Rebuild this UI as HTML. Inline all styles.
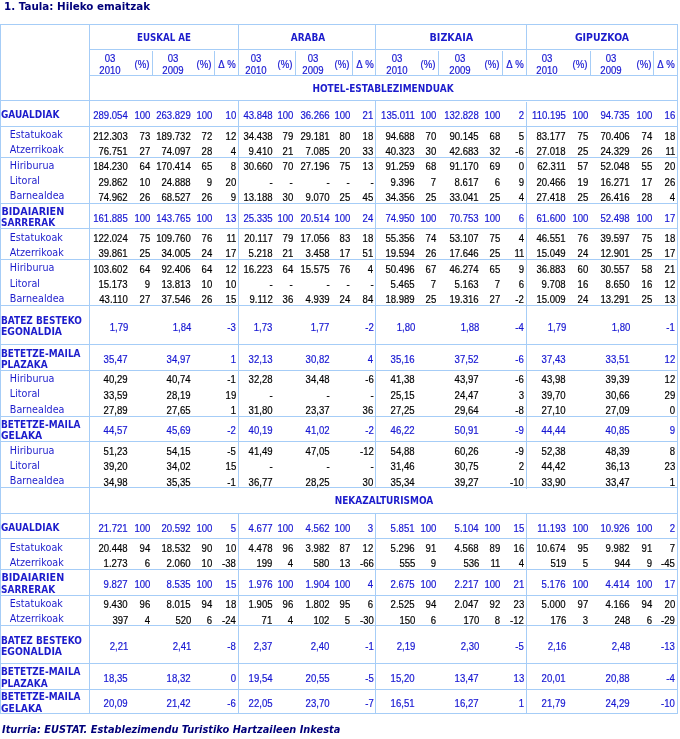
<!DOCTYPE html>
<html lang="eu"><head><meta charset="utf-8"><title>1. Taula: Hileko emaitzak</title>
<style>
html,body{margin:0;padding:0;background:#fff}
body{width:680px;height:739px;position:relative;overflow:hidden;will-change:transform}
i.l{position:absolute;background:#a6cdf7;display:block}
b{position:absolute;white-space:nowrap;font-weight:normal}
.n,.nc{font:11px/12px "Liberation Sans",sans-serif;-webkit-text-stroke:.2px}
.n{transform:scaleX(0.87);transform-origin:100% 50%}
.nc{width:60px;text-align:center;transform:scaleX(0.87);transform-origin:50% 50%}
.lb,.lbc{font:bold 9.6px/11px "DejaVu Sans","Liberation Sans",sans-serif;color:#1c1ccc;transform:scaleX(0.935);transform-origin:0 50%}
.lbc{width:200px;text-align:center;transform-origin:50% 50%}
.sb{font:9.6px/11px "DejaVu Sans","Liberation Sans",sans-serif;color:#1c1ccc;transform:scaleX(1.0);transform-origin:0 50%}
.ti{font:bold 10px/11px "DejaVu Sans","Liberation Sans",sans-serif;color:#00007a;transform:scaleX(1.033);transform-origin:0 50%}
.ft{font:italic bold 10px/11px "DejaVu Sans","Liberation Sans",sans-serif;color:#00007a;transform:scaleX(0.98);transform-origin:0 50%}
</style></head>
<body>
<i class="l" style="left:0px;top:24px;width:678px;height:1px"></i>
<i class="l" style="left:0px;top:100px;width:678px;height:1px"></i>
<i class="l" style="left:0px;top:126px;width:678px;height:1px"></i>
<i class="l" style="left:0px;top:157px;width:678px;height:1px"></i>
<i class="l" style="left:0px;top:203px;width:678px;height:1px"></i>
<i class="l" style="left:0px;top:228px;width:678px;height:1px"></i>
<i class="l" style="left:0px;top:259px;width:678px;height:1px"></i>
<i class="l" style="left:0px;top:305px;width:678px;height:1px"></i>
<i class="l" style="left:0px;top:344px;width:678px;height:1px"></i>
<i class="l" style="left:0px;top:370px;width:678px;height:1px"></i>
<i class="l" style="left:0px;top:416px;width:678px;height:1px"></i>
<i class="l" style="left:0px;top:441px;width:678px;height:1px"></i>
<i class="l" style="left:0px;top:487px;width:678px;height:1px"></i>
<i class="l" style="left:0px;top:513px;width:678px;height:1px"></i>
<i class="l" style="left:0px;top:538px;width:678px;height:1px"></i>
<i class="l" style="left:0px;top:569px;width:678px;height:1px"></i>
<i class="l" style="left:0px;top:595px;width:678px;height:1px"></i>
<i class="l" style="left:0px;top:625px;width:678px;height:1px"></i>
<i class="l" style="left:0px;top:663px;width:678px;height:1px"></i>
<i class="l" style="left:0px;top:689px;width:678px;height:1px"></i>
<i class="l" style="left:0px;top:713px;width:678px;height:1px"></i>
<i class="l" style="left:89px;top:49px;width:589px;height:1px"></i>
<i class="l" style="left:89px;top:75px;width:589px;height:1px"></i>
<i class="l" style="left:0px;top:24px;width:1px;height:690px"></i>
<i class="l" style="left:89px;top:24px;width:1px;height:690px"></i>
<i class="l" style="left:677px;top:24px;width:1px;height:690px"></i>
<i class="l" style="left:238px;top:24px;width:1px;height:52px"></i>
<i class="l" style="left:238px;top:100px;width:1px;height:388px"></i>
<i class="l" style="left:238px;top:513px;width:1px;height:201px"></i>
<i class="l" style="left:375px;top:24px;width:1px;height:52px"></i>
<i class="l" style="left:375px;top:100px;width:1px;height:388px"></i>
<i class="l" style="left:375px;top:513px;width:1px;height:201px"></i>
<i class="l" style="left:526px;top:24px;width:1px;height:52px"></i>
<i class="l" style="left:526px;top:102px;width:1px;height:387px"></i>
<i class="l" style="left:526px;top:513px;width:1px;height:201px"></i>
<i class="l" style="left:152px;top:51px;width:1px;height:24px"></i>
<i class="l" style="left:214px;top:51px;width:1px;height:24px"></i>
<i class="l" style="left:295px;top:51px;width:1px;height:24px"></i>
<i class="l" style="left:352px;top:51px;width:1px;height:24px"></i>
<i class="l" style="left:438px;top:51px;width:1px;height:24px"></i>
<i class="l" style="left:502px;top:51px;width:1px;height:24px"></i>
<i class="l" style="left:590px;top:51px;width:1px;height:24px"></i>
<i class="l" style="left:653px;top:51px;width:1px;height:24px"></i>
<b class="ti" style="left:4px;top:1px">1. Taula: Hileko emaitzak</b>
<b class="ft" style="left:1.6px;top:724px">Iturria: EUSTAT. Establezimendu Turistiko Hartzaileen Inkesta</b>
<b class="lbc" style="left:63.5px;top:32px;transform:scaleX(0.908)">EUSKAL AE</b>
<b class="lbc" style="left:208px;top:32px">ARABA</b>
<b class="lbc" style="left:351.4px;top:32px;transform:scaleX(1.0)">BIZKAIA</b>
<b class="lbc" style="left:502.4px;top:32px;transform:scaleX(0.975)">GIPUZKOA</b>
<b class="nc" style="left:80.3px;top:52px;color:#1616d2">03</b>
<b class="nc" style="left:80.3px;top:64px;color:#1616d2">2010</b>
<b class="nc" style="left:111.6px;top:58px;color:#1616d2">(%)</b>
<b class="nc" style="left:143px;top:52px;color:#1616d2">03</b>
<b class="nc" style="left:143px;top:64px;color:#1616d2">2009</b>
<b class="nc" style="left:174px;top:58px;color:#1616d2">(%)</b>
<b class="nc" style="left:196.6px;top:58px;color:#1616d2">&Delta;&nbsp;%</b>
<b class="nc" style="left:226px;top:52px;color:#1616d2">03</b>
<b class="nc" style="left:226px;top:64px;color:#1616d2">2010</b>
<b class="nc" style="left:254.7px;top:58px;color:#1616d2">(%)</b>
<b class="nc" style="left:283px;top:52px;color:#1616d2">03</b>
<b class="nc" style="left:283px;top:64px;color:#1616d2">2009</b>
<b class="nc" style="left:311.5px;top:58px;color:#1616d2">(%)</b>
<b class="nc" style="left:334.6px;top:58px;color:#1616d2">&Delta;&nbsp;%</b>
<b class="nc" style="left:366.6px;top:52px;color:#1616d2">03</b>
<b class="nc" style="left:366.6px;top:64px;color:#1616d2">2010</b>
<b class="nc" style="left:398px;top:58px;color:#1616d2">(%)</b>
<b class="nc" style="left:430px;top:52px;color:#1616d2">03</b>
<b class="nc" style="left:430px;top:64px;color:#1616d2">2009</b>
<b class="nc" style="left:462px;top:58px;color:#1616d2">(%)</b>
<b class="nc" style="left:485px;top:58px;color:#1616d2">&Delta;&nbsp;%</b>
<b class="nc" style="left:517px;top:52px;color:#1616d2">03</b>
<b class="nc" style="left:517px;top:64px;color:#1616d2">2010</b>
<b class="nc" style="left:549.7px;top:58px;color:#1616d2">(%)</b>
<b class="nc" style="left:581.3px;top:52px;color:#1616d2">03</b>
<b class="nc" style="left:581.3px;top:64px;color:#1616d2">2009</b>
<b class="nc" style="left:613.5px;top:58px;color:#1616d2">(%)</b>
<b class="nc" style="left:635.5px;top:58px;color:#1616d2">&Delta;&nbsp;%</b>
<b class="lbc" style="left:282.5px;top:83px">HOTEL-ESTABLEZIMENDUAK</b>
<b class="lbc" style="left:284px;top:495px">NEKAZALTURISMOA</b>
<b class="lb" style="left:1.4px;top:109px">GAUALDIAK</b>
<b class="n" style="right:552px;top:109px;color:#1616d2">289.054</b>
<b class="n" style="right:530px;top:109px;color:#1616d2">100</b>
<b class="n" style="right:489px;top:109px;color:#1616d2">263.829</b>
<b class="n" style="right:467.5px;top:109px;color:#1616d2">100</b>
<b class="n" style="right:444px;top:109px;color:#1616d2">10</b>
<b class="n" style="right:407.5px;top:109px;color:#1616d2">43.848</b>
<b class="n" style="right:387px;top:109px;color:#1616d2">100</b>
<b class="n" style="right:350.5px;top:109px;color:#1616d2">36.266</b>
<b class="n" style="right:330px;top:109px;color:#1616d2">100</b>
<b class="n" style="right:306.5px;top:109px;color:#1616d2">21</b>
<b class="n" style="right:265px;top:109px;color:#1616d2">135.011</b>
<b class="n" style="right:244px;top:109px;color:#1616d2">100</b>
<b class="n" style="right:201px;top:109px;color:#1616d2">132.828</b>
<b class="n" style="right:180px;top:109px;color:#1616d2">100</b>
<b class="n" style="right:156px;top:109px;color:#1616d2">2</b>
<b class="n" style="right:114px;top:109px;color:#1616d2">110.195</b>
<b class="n" style="right:92px;top:109px;color:#1616d2">100</b>
<b class="n" style="right:50px;top:109px;color:#1616d2">94.735</b>
<b class="n" style="right:28px;top:109px;color:#1616d2">100</b>
<b class="n" style="right:5px;top:109px;color:#1616d2">16</b>
<b class="sb" style="left:9.8px;top:129px">Estatukoak</b>
<b class="n" style="right:552px;top:130px;color:#000">212.303</b>
<b class="n" style="right:530px;top:130px;color:#000">73</b>
<b class="n" style="right:489px;top:130px;color:#000">189.732</b>
<b class="n" style="right:467.5px;top:130px;color:#000">72</b>
<b class="n" style="right:444px;top:130px;color:#000">12</b>
<b class="n" style="right:407.5px;top:130px;color:#000">34.438</b>
<b class="n" style="right:387px;top:130px;color:#000">79</b>
<b class="n" style="right:350.5px;top:130px;color:#000">29.181</b>
<b class="n" style="right:330px;top:130px;color:#000">80</b>
<b class="n" style="right:306.5px;top:130px;color:#000">18</b>
<b class="n" style="right:265px;top:130px;color:#000">94.688</b>
<b class="n" style="right:244px;top:130px;color:#000">70</b>
<b class="n" style="right:201px;top:130px;color:#000">90.145</b>
<b class="n" style="right:180px;top:130px;color:#000">68</b>
<b class="n" style="right:156px;top:130px;color:#000">5</b>
<b class="n" style="right:114px;top:130px;color:#000">83.177</b>
<b class="n" style="right:92px;top:130px;color:#000">75</b>
<b class="n" style="right:50px;top:130px;color:#000">70.406</b>
<b class="n" style="right:28px;top:130px;color:#000">74</b>
<b class="n" style="right:5px;top:130px;color:#000">18</b>
<b class="sb" style="left:9.8px;top:144px">Atzerrikoak</b>
<b class="n" style="right:552px;top:145px;color:#000">76.751</b>
<b class="n" style="right:530px;top:145px;color:#000">27</b>
<b class="n" style="right:489px;top:145px;color:#000">74.097</b>
<b class="n" style="right:467.5px;top:145px;color:#000">28</b>
<b class="n" style="right:444px;top:145px;color:#000">4</b>
<b class="n" style="right:407.5px;top:145px;color:#000">9.410</b>
<b class="n" style="right:387px;top:145px;color:#000">21</b>
<b class="n" style="right:350.5px;top:145px;color:#000">7.085</b>
<b class="n" style="right:330px;top:145px;color:#000">20</b>
<b class="n" style="right:306.5px;top:145px;color:#000">33</b>
<b class="n" style="right:265px;top:145px;color:#000">40.323</b>
<b class="n" style="right:244px;top:145px;color:#000">30</b>
<b class="n" style="right:201px;top:145px;color:#000">42.683</b>
<b class="n" style="right:180px;top:145px;color:#000">32</b>
<b class="n" style="right:156px;top:145px;color:#000">-6</b>
<b class="n" style="right:114px;top:145px;color:#000">27.018</b>
<b class="n" style="right:92px;top:145px;color:#000">25</b>
<b class="n" style="right:50px;top:145px;color:#000">24.329</b>
<b class="n" style="right:28px;top:145px;color:#000">26</b>
<b class="n" style="right:5px;top:145px;color:#000">11</b>
<b class="sb" style="left:9.8px;top:160px">Hiriburua</b>
<b class="n" style="right:552px;top:160px;color:#000">184.230</b>
<b class="n" style="right:530px;top:160px;color:#000">64</b>
<b class="n" style="right:489px;top:160px;color:#000">170.414</b>
<b class="n" style="right:467.5px;top:160px;color:#000">65</b>
<b class="n" style="right:444px;top:160px;color:#000">8</b>
<b class="n" style="right:407.5px;top:160px;color:#000">30.660</b>
<b class="n" style="right:387px;top:160px;color:#000">70</b>
<b class="n" style="right:350.5px;top:160px;color:#000">27.196</b>
<b class="n" style="right:330px;top:160px;color:#000">75</b>
<b class="n" style="right:306.5px;top:160px;color:#000">13</b>
<b class="n" style="right:265px;top:160px;color:#000">91.259</b>
<b class="n" style="right:244px;top:160px;color:#000">68</b>
<b class="n" style="right:201px;top:160px;color:#000">91.170</b>
<b class="n" style="right:180px;top:160px;color:#000">69</b>
<b class="n" style="right:156px;top:160px;color:#000">0</b>
<b class="n" style="right:114px;top:160px;color:#000">62.311</b>
<b class="n" style="right:92px;top:160px;color:#000">57</b>
<b class="n" style="right:50px;top:160px;color:#000">52.048</b>
<b class="n" style="right:28px;top:160px;color:#000">55</b>
<b class="n" style="right:5px;top:160px;color:#000">20</b>
<b class="sb" style="left:9.8px;top:175px">Litoral</b>
<b class="n" style="right:552px;top:176px;color:#000">29.862</b>
<b class="n" style="right:530px;top:176px;color:#000">10</b>
<b class="n" style="right:489px;top:176px;color:#000">24.888</b>
<b class="n" style="right:467.5px;top:176px;color:#000">9</b>
<b class="n" style="right:444px;top:176px;color:#000">20</b>
<b class="n" style="right:407.5px;top:176px;color:#000">-</b>
<b class="n" style="right:387px;top:176px;color:#000">-</b>
<b class="n" style="right:350.5px;top:176px;color:#000">-</b>
<b class="n" style="right:330px;top:176px;color:#000">-</b>
<b class="n" style="right:306.5px;top:176px;color:#000">-</b>
<b class="n" style="right:265px;top:176px;color:#000">9.396</b>
<b class="n" style="right:244px;top:176px;color:#000">7</b>
<b class="n" style="right:201px;top:176px;color:#000">8.617</b>
<b class="n" style="right:180px;top:176px;color:#000">6</b>
<b class="n" style="right:156px;top:176px;color:#000">9</b>
<b class="n" style="right:114px;top:176px;color:#000">20.466</b>
<b class="n" style="right:92px;top:176px;color:#000">19</b>
<b class="n" style="right:50px;top:176px;color:#000">16.271</b>
<b class="n" style="right:28px;top:176px;color:#000">17</b>
<b class="n" style="right:5px;top:176px;color:#000">26</b>
<b class="sb" style="left:9.8px;top:190px">Barnealdea</b>
<b class="n" style="right:552px;top:191px;color:#000">74.962</b>
<b class="n" style="right:530px;top:191px;color:#000">26</b>
<b class="n" style="right:489px;top:191px;color:#000">68.527</b>
<b class="n" style="right:467.5px;top:191px;color:#000">26</b>
<b class="n" style="right:444px;top:191px;color:#000">9</b>
<b class="n" style="right:407.5px;top:191px;color:#000">13.188</b>
<b class="n" style="right:387px;top:191px;color:#000">30</b>
<b class="n" style="right:350.5px;top:191px;color:#000">9.070</b>
<b class="n" style="right:330px;top:191px;color:#000">25</b>
<b class="n" style="right:306.5px;top:191px;color:#000">45</b>
<b class="n" style="right:265px;top:191px;color:#000">34.356</b>
<b class="n" style="right:244px;top:191px;color:#000">25</b>
<b class="n" style="right:201px;top:191px;color:#000">33.041</b>
<b class="n" style="right:180px;top:191px;color:#000">25</b>
<b class="n" style="right:156px;top:191px;color:#000">4</b>
<b class="n" style="right:114px;top:191px;color:#000">27.418</b>
<b class="n" style="right:92px;top:191px;color:#000">25</b>
<b class="n" style="right:50px;top:191px;color:#000">26.416</b>
<b class="n" style="right:28px;top:191px;color:#000">28</b>
<b class="n" style="right:5px;top:191px;color:#000">4</b>
<b class="lb" style="left:1.4px;top:206px;transform:scaleX(1.0)">BIDAIARIEN</b>
<b class="lb" style="left:1.4px;top:217px">SARRERAK</b>
<b class="n" style="right:552px;top:212px;color:#1616d2">161.885</b>
<b class="n" style="right:530px;top:212px;color:#1616d2">100</b>
<b class="n" style="right:489px;top:212px;color:#1616d2">143.765</b>
<b class="n" style="right:467.5px;top:212px;color:#1616d2">100</b>
<b class="n" style="right:444px;top:212px;color:#1616d2">13</b>
<b class="n" style="right:407.5px;top:212px;color:#1616d2">25.335</b>
<b class="n" style="right:387px;top:212px;color:#1616d2">100</b>
<b class="n" style="right:350.5px;top:212px;color:#1616d2">20.514</b>
<b class="n" style="right:330px;top:212px;color:#1616d2">100</b>
<b class="n" style="right:306.5px;top:212px;color:#1616d2">24</b>
<b class="n" style="right:265px;top:212px;color:#1616d2">74.950</b>
<b class="n" style="right:244px;top:212px;color:#1616d2">100</b>
<b class="n" style="right:201px;top:212px;color:#1616d2">70.753</b>
<b class="n" style="right:180px;top:212px;color:#1616d2">100</b>
<b class="n" style="right:156px;top:212px;color:#1616d2">6</b>
<b class="n" style="right:114px;top:212px;color:#1616d2">61.600</b>
<b class="n" style="right:92px;top:212px;color:#1616d2">100</b>
<b class="n" style="right:50px;top:212px;color:#1616d2">52.498</b>
<b class="n" style="right:28px;top:212px;color:#1616d2">100</b>
<b class="n" style="right:5px;top:212px;color:#1616d2">17</b>
<b class="sb" style="left:9.8px;top:232px">Estatukoak</b>
<b class="n" style="right:552px;top:232px;color:#000">122.024</b>
<b class="n" style="right:530px;top:232px;color:#000">75</b>
<b class="n" style="right:489px;top:232px;color:#000">109.760</b>
<b class="n" style="right:467.5px;top:232px;color:#000">76</b>
<b class="n" style="right:444px;top:232px;color:#000">11</b>
<b class="n" style="right:407.5px;top:232px;color:#000">20.117</b>
<b class="n" style="right:387px;top:232px;color:#000">79</b>
<b class="n" style="right:350.5px;top:232px;color:#000">17.056</b>
<b class="n" style="right:330px;top:232px;color:#000">83</b>
<b class="n" style="right:306.5px;top:232px;color:#000">18</b>
<b class="n" style="right:265px;top:232px;color:#000">55.356</b>
<b class="n" style="right:244px;top:232px;color:#000">74</b>
<b class="n" style="right:201px;top:232px;color:#000">53.107</b>
<b class="n" style="right:180px;top:232px;color:#000">75</b>
<b class="n" style="right:156px;top:232px;color:#000">4</b>
<b class="n" style="right:114px;top:232px;color:#000">46.551</b>
<b class="n" style="right:92px;top:232px;color:#000">76</b>
<b class="n" style="right:50px;top:232px;color:#000">39.597</b>
<b class="n" style="right:28px;top:232px;color:#000">75</b>
<b class="n" style="right:5px;top:232px;color:#000">18</b>
<b class="sb" style="left:9.8px;top:247px">Atzerrikoak</b>
<b class="n" style="right:552px;top:247px;color:#000">39.861</b>
<b class="n" style="right:530px;top:247px;color:#000">25</b>
<b class="n" style="right:489px;top:247px;color:#000">34.005</b>
<b class="n" style="right:467.5px;top:247px;color:#000">24</b>
<b class="n" style="right:444px;top:247px;color:#000">17</b>
<b class="n" style="right:407.5px;top:247px;color:#000">5.218</b>
<b class="n" style="right:387px;top:247px;color:#000">21</b>
<b class="n" style="right:350.5px;top:247px;color:#000">3.458</b>
<b class="n" style="right:330px;top:247px;color:#000">17</b>
<b class="n" style="right:306.5px;top:247px;color:#000">51</b>
<b class="n" style="right:265px;top:247px;color:#000">19.594</b>
<b class="n" style="right:244px;top:247px;color:#000">26</b>
<b class="n" style="right:201px;top:247px;color:#000">17.646</b>
<b class="n" style="right:180px;top:247px;color:#000">25</b>
<b class="n" style="right:156px;top:247px;color:#000">11</b>
<b class="n" style="right:114px;top:247px;color:#000">15.049</b>
<b class="n" style="right:92px;top:247px;color:#000">24</b>
<b class="n" style="right:50px;top:247px;color:#000">12.901</b>
<b class="n" style="right:28px;top:247px;color:#000">25</b>
<b class="n" style="right:5px;top:247px;color:#000">17</b>
<b class="sb" style="left:9.8px;top:262px">Hiriburua</b>
<b class="n" style="right:552px;top:263px;color:#000">103.602</b>
<b class="n" style="right:530px;top:263px;color:#000">64</b>
<b class="n" style="right:489px;top:263px;color:#000">92.406</b>
<b class="n" style="right:467.5px;top:263px;color:#000">64</b>
<b class="n" style="right:444px;top:263px;color:#000">12</b>
<b class="n" style="right:407.5px;top:263px;color:#000">16.223</b>
<b class="n" style="right:387px;top:263px;color:#000">64</b>
<b class="n" style="right:350.5px;top:263px;color:#000">15.575</b>
<b class="n" style="right:330px;top:263px;color:#000">76</b>
<b class="n" style="right:306.5px;top:263px;color:#000">4</b>
<b class="n" style="right:265px;top:263px;color:#000">50.496</b>
<b class="n" style="right:244px;top:263px;color:#000">67</b>
<b class="n" style="right:201px;top:263px;color:#000">46.274</b>
<b class="n" style="right:180px;top:263px;color:#000">65</b>
<b class="n" style="right:156px;top:263px;color:#000">9</b>
<b class="n" style="right:114px;top:263px;color:#000">36.883</b>
<b class="n" style="right:92px;top:263px;color:#000">60</b>
<b class="n" style="right:50px;top:263px;color:#000">30.557</b>
<b class="n" style="right:28px;top:263px;color:#000">58</b>
<b class="n" style="right:5px;top:263px;color:#000">21</b>
<b class="sb" style="left:9.8px;top:278px">Litoral</b>
<b class="n" style="right:552px;top:278px;color:#000">15.173</b>
<b class="n" style="right:530px;top:278px;color:#000">9</b>
<b class="n" style="right:489px;top:278px;color:#000">13.813</b>
<b class="n" style="right:467.5px;top:278px;color:#000">10</b>
<b class="n" style="right:444px;top:278px;color:#000">10</b>
<b class="n" style="right:407.5px;top:278px;color:#000">-</b>
<b class="n" style="right:387px;top:278px;color:#000">-</b>
<b class="n" style="right:350.5px;top:278px;color:#000">-</b>
<b class="n" style="right:330px;top:278px;color:#000">-</b>
<b class="n" style="right:306.5px;top:278px;color:#000">-</b>
<b class="n" style="right:265px;top:278px;color:#000">5.465</b>
<b class="n" style="right:244px;top:278px;color:#000">7</b>
<b class="n" style="right:201px;top:278px;color:#000">5.163</b>
<b class="n" style="right:180px;top:278px;color:#000">7</b>
<b class="n" style="right:156px;top:278px;color:#000">6</b>
<b class="n" style="right:114px;top:278px;color:#000">9.708</b>
<b class="n" style="right:92px;top:278px;color:#000">16</b>
<b class="n" style="right:50px;top:278px;color:#000">8.650</b>
<b class="n" style="right:28px;top:278px;color:#000">16</b>
<b class="n" style="right:5px;top:278px;color:#000">12</b>
<b class="sb" style="left:9.8px;top:293px">Barnealdea</b>
<b class="n" style="right:552px;top:293px;color:#000">43.110</b>
<b class="n" style="right:530px;top:293px;color:#000">27</b>
<b class="n" style="right:489px;top:293px;color:#000">37.546</b>
<b class="n" style="right:467.5px;top:293px;color:#000">26</b>
<b class="n" style="right:444px;top:293px;color:#000">15</b>
<b class="n" style="right:407.5px;top:293px;color:#000">9.112</b>
<b class="n" style="right:387px;top:293px;color:#000">36</b>
<b class="n" style="right:350.5px;top:293px;color:#000">4.939</b>
<b class="n" style="right:330px;top:293px;color:#000">24</b>
<b class="n" style="right:306.5px;top:293px;color:#000">84</b>
<b class="n" style="right:265px;top:293px;color:#000">18.989</b>
<b class="n" style="right:244px;top:293px;color:#000">25</b>
<b class="n" style="right:201px;top:293px;color:#000">19.316</b>
<b class="n" style="right:180px;top:293px;color:#000">27</b>
<b class="n" style="right:156px;top:293px;color:#000">-2</b>
<b class="n" style="right:114px;top:293px;color:#000">15.009</b>
<b class="n" style="right:92px;top:293px;color:#000">24</b>
<b class="n" style="right:50px;top:293px;color:#000">13.291</b>
<b class="n" style="right:28px;top:293px;color:#000">25</b>
<b class="n" style="right:5px;top:293px;color:#000">13</b>
<b class="lb" style="left:1.4px;top:315px">BATEZ BESTEKO</b>
<b class="lb" style="left:1.4px;top:326px;transform:scaleX(0.967)">EGONALDIA</b>
<b class="n" style="right:552px;top:321px;color:#1616d2">1,79</b>
<b class="n" style="right:489px;top:321px;color:#1616d2">1,84</b>
<b class="n" style="right:444px;top:321px;color:#1616d2">-3</b>
<b class="n" style="right:407.5px;top:321px;color:#1616d2">1,73</b>
<b class="n" style="right:350.5px;top:321px;color:#1616d2">1,77</b>
<b class="n" style="right:306.5px;top:321px;color:#1616d2">-2</b>
<b class="n" style="right:265px;top:321px;color:#1616d2">1,80</b>
<b class="n" style="right:201px;top:321px;color:#1616d2">1,88</b>
<b class="n" style="right:156px;top:321px;color:#1616d2">-4</b>
<b class="n" style="right:114px;top:321px;color:#1616d2">1,79</b>
<b class="n" style="right:50px;top:321px;color:#1616d2">1,80</b>
<b class="n" style="right:5px;top:321px;color:#1616d2">-1</b>
<b class="lb" style="left:1.4px;top:348px">BETETZE-MAILA</b>
<b class="lb" style="left:1.4px;top:359px">PLAZAKA</b>
<b class="n" style="right:552px;top:353px;color:#1616d2">35,47</b>
<b class="n" style="right:489px;top:353px;color:#1616d2">34,97</b>
<b class="n" style="right:444px;top:353px;color:#1616d2">1</b>
<b class="n" style="right:407.5px;top:353px;color:#1616d2">32,13</b>
<b class="n" style="right:350.5px;top:353px;color:#1616d2">30,82</b>
<b class="n" style="right:306.5px;top:353px;color:#1616d2">4</b>
<b class="n" style="right:265px;top:353px;color:#1616d2">35,16</b>
<b class="n" style="right:201px;top:353px;color:#1616d2">37,52</b>
<b class="n" style="right:156px;top:353px;color:#1616d2">-6</b>
<b class="n" style="right:114px;top:353px;color:#1616d2">37,43</b>
<b class="n" style="right:50px;top:353px;color:#1616d2">33,51</b>
<b class="n" style="right:5px;top:353px;color:#1616d2">12</b>
<b class="sb" style="left:9.8px;top:373px">Hiriburua</b>
<b class="n" style="right:552px;top:373px;color:#000">40,29</b>
<b class="n" style="right:489px;top:373px;color:#000">40,74</b>
<b class="n" style="right:444px;top:373px;color:#000">-1</b>
<b class="n" style="right:407.5px;top:373px;color:#000">32,28</b>
<b class="n" style="right:350.5px;top:373px;color:#000">34,48</b>
<b class="n" style="right:306.5px;top:373px;color:#000">-6</b>
<b class="n" style="right:265px;top:373px;color:#000">41,38</b>
<b class="n" style="right:201px;top:373px;color:#000">43,97</b>
<b class="n" style="right:156px;top:373px;color:#000">-6</b>
<b class="n" style="right:114px;top:373px;color:#000">43,98</b>
<b class="n" style="right:50px;top:373px;color:#000">39,39</b>
<b class="n" style="right:5px;top:373px;color:#000">12</b>
<b class="sb" style="left:9.8px;top:388px">Litoral</b>
<b class="n" style="right:552px;top:389px;color:#000">33,59</b>
<b class="n" style="right:489px;top:389px;color:#000">28,19</b>
<b class="n" style="right:444px;top:389px;color:#000">19</b>
<b class="n" style="right:407.5px;top:389px;color:#000">-</b>
<b class="n" style="right:350.5px;top:389px;color:#000">-</b>
<b class="n" style="right:306.5px;top:389px;color:#000">-</b>
<b class="n" style="right:265px;top:389px;color:#000">25,15</b>
<b class="n" style="right:201px;top:389px;color:#000">24,47</b>
<b class="n" style="right:156px;top:389px;color:#000">3</b>
<b class="n" style="right:114px;top:389px;color:#000">39,70</b>
<b class="n" style="right:50px;top:389px;color:#000">30,66</b>
<b class="n" style="right:5px;top:389px;color:#000">29</b>
<b class="sb" style="left:9.8px;top:404px">Barnealdea</b>
<b class="n" style="right:552px;top:404px;color:#000">27,89</b>
<b class="n" style="right:489px;top:404px;color:#000">27,65</b>
<b class="n" style="right:444px;top:404px;color:#000">1</b>
<b class="n" style="right:407.5px;top:404px;color:#000">31,80</b>
<b class="n" style="right:350.5px;top:404px;color:#000">23,37</b>
<b class="n" style="right:306.5px;top:404px;color:#000">36</b>
<b class="n" style="right:265px;top:404px;color:#000">27,25</b>
<b class="n" style="right:201px;top:404px;color:#000">29,64</b>
<b class="n" style="right:156px;top:404px;color:#000">-8</b>
<b class="n" style="right:114px;top:404px;color:#000">27,10</b>
<b class="n" style="right:50px;top:404px;color:#000">27,09</b>
<b class="n" style="right:5px;top:404px;color:#000">0</b>
<b class="lb" style="left:1.4px;top:419px">BETETZE-MAILA</b>
<b class="lb" style="left:1.4px;top:430px;transform:scaleX(0.963)">GELAKA</b>
<b class="n" style="right:552px;top:424px;color:#1616d2">44,57</b>
<b class="n" style="right:489px;top:424px;color:#1616d2">45,69</b>
<b class="n" style="right:444px;top:424px;color:#1616d2">-2</b>
<b class="n" style="right:407.5px;top:424px;color:#1616d2">40,19</b>
<b class="n" style="right:350.5px;top:424px;color:#1616d2">41,02</b>
<b class="n" style="right:306.5px;top:424px;color:#1616d2">-2</b>
<b class="n" style="right:265px;top:424px;color:#1616d2">46,22</b>
<b class="n" style="right:201px;top:424px;color:#1616d2">50,91</b>
<b class="n" style="right:156px;top:424px;color:#1616d2">-9</b>
<b class="n" style="right:114px;top:424px;color:#1616d2">44,44</b>
<b class="n" style="right:50px;top:424px;color:#1616d2">40,85</b>
<b class="n" style="right:5px;top:424px;color:#1616d2">9</b>
<b class="sb" style="left:9.8px;top:445px">Hiriburua</b>
<b class="n" style="right:552px;top:445px;color:#000">51,23</b>
<b class="n" style="right:489px;top:445px;color:#000">54,15</b>
<b class="n" style="right:444px;top:445px;color:#000">-5</b>
<b class="n" style="right:407.5px;top:445px;color:#000">41,49</b>
<b class="n" style="right:350.5px;top:445px;color:#000">47,05</b>
<b class="n" style="right:306.5px;top:445px;color:#000">-12</b>
<b class="n" style="right:265px;top:445px;color:#000">54,88</b>
<b class="n" style="right:201px;top:445px;color:#000">60,26</b>
<b class="n" style="right:156px;top:445px;color:#000">-9</b>
<b class="n" style="right:114px;top:445px;color:#000">52,38</b>
<b class="n" style="right:50px;top:445px;color:#000">48,39</b>
<b class="n" style="right:5px;top:445px;color:#000">8</b>
<b class="sb" style="left:9.8px;top:460px">Litoral</b>
<b class="n" style="right:552px;top:460px;color:#000">39,20</b>
<b class="n" style="right:489px;top:460px;color:#000">34,02</b>
<b class="n" style="right:444px;top:460px;color:#000">15</b>
<b class="n" style="right:407.5px;top:460px;color:#000">-</b>
<b class="n" style="right:350.5px;top:460px;color:#000">-</b>
<b class="n" style="right:306.5px;top:460px;color:#000">-</b>
<b class="n" style="right:265px;top:460px;color:#000">31,46</b>
<b class="n" style="right:201px;top:460px;color:#000">30,75</b>
<b class="n" style="right:156px;top:460px;color:#000">2</b>
<b class="n" style="right:114px;top:460px;color:#000">44,42</b>
<b class="n" style="right:50px;top:460px;color:#000">36,13</b>
<b class="n" style="right:5px;top:460px;color:#000">23</b>
<b class="sb" style="left:9.8px;top:475px">Barnealdea</b>
<b class="n" style="right:552px;top:476px;color:#000">34,98</b>
<b class="n" style="right:489px;top:476px;color:#000">35,35</b>
<b class="n" style="right:444px;top:476px;color:#000">-1</b>
<b class="n" style="right:407.5px;top:476px;color:#000">36,77</b>
<b class="n" style="right:350.5px;top:476px;color:#000">28,25</b>
<b class="n" style="right:306.5px;top:476px;color:#000">30</b>
<b class="n" style="right:265px;top:476px;color:#000">35,34</b>
<b class="n" style="right:201px;top:476px;color:#000">39,27</b>
<b class="n" style="right:156px;top:476px;color:#000">-10</b>
<b class="n" style="right:114px;top:476px;color:#000">33,90</b>
<b class="n" style="right:50px;top:476px;color:#000">33,47</b>
<b class="n" style="right:5px;top:476px;color:#000">1</b>
<b class="lb" style="left:1.4px;top:522px">GAUALDIAK</b>
<b class="n" style="right:552px;top:522px;color:#1616d2">21.721</b>
<b class="n" style="right:530px;top:522px;color:#1616d2">100</b>
<b class="n" style="right:489px;top:522px;color:#1616d2">20.592</b>
<b class="n" style="right:467.5px;top:522px;color:#1616d2">100</b>
<b class="n" style="right:444px;top:522px;color:#1616d2">5</b>
<b class="n" style="right:407.5px;top:522px;color:#1616d2">4.677</b>
<b class="n" style="right:387px;top:522px;color:#1616d2">100</b>
<b class="n" style="right:350.5px;top:522px;color:#1616d2">4.562</b>
<b class="n" style="right:330px;top:522px;color:#1616d2">100</b>
<b class="n" style="right:306.5px;top:522px;color:#1616d2">3</b>
<b class="n" style="right:265px;top:522px;color:#1616d2">5.851</b>
<b class="n" style="right:244px;top:522px;color:#1616d2">100</b>
<b class="n" style="right:201px;top:522px;color:#1616d2">5.104</b>
<b class="n" style="right:180px;top:522px;color:#1616d2">100</b>
<b class="n" style="right:156px;top:522px;color:#1616d2">15</b>
<b class="n" style="right:114px;top:522px;color:#1616d2">11.193</b>
<b class="n" style="right:92px;top:522px;color:#1616d2">100</b>
<b class="n" style="right:50px;top:522px;color:#1616d2">10.926</b>
<b class="n" style="right:28px;top:522px;color:#1616d2">100</b>
<b class="n" style="right:5px;top:522px;color:#1616d2">2</b>
<b class="sb" style="left:9.8px;top:542px">Estatukoak</b>
<b class="n" style="right:552px;top:542px;color:#000">20.448</b>
<b class="n" style="right:530px;top:542px;color:#000">94</b>
<b class="n" style="right:489px;top:542px;color:#000">18.532</b>
<b class="n" style="right:467.5px;top:542px;color:#000">90</b>
<b class="n" style="right:444px;top:542px;color:#000">10</b>
<b class="n" style="right:407.5px;top:542px;color:#000">4.478</b>
<b class="n" style="right:387px;top:542px;color:#000">96</b>
<b class="n" style="right:350.5px;top:542px;color:#000">3.982</b>
<b class="n" style="right:330px;top:542px;color:#000">87</b>
<b class="n" style="right:306.5px;top:542px;color:#000">12</b>
<b class="n" style="right:265px;top:542px;color:#000">5.296</b>
<b class="n" style="right:244px;top:542px;color:#000">91</b>
<b class="n" style="right:201px;top:542px;color:#000">4.568</b>
<b class="n" style="right:180px;top:542px;color:#000">89</b>
<b class="n" style="right:156px;top:542px;color:#000">16</b>
<b class="n" style="right:114px;top:542px;color:#000">10.674</b>
<b class="n" style="right:92px;top:542px;color:#000">95</b>
<b class="n" style="right:50px;top:542px;color:#000">9.982</b>
<b class="n" style="right:28px;top:542px;color:#000">91</b>
<b class="n" style="right:5px;top:542px;color:#000">7</b>
<b class="sb" style="left:9.8px;top:557px">Atzerrikoak</b>
<b class="n" style="right:552px;top:557px;color:#000">1.273</b>
<b class="n" style="right:530px;top:557px;color:#000">6</b>
<b class="n" style="right:489px;top:557px;color:#000">2.060</b>
<b class="n" style="right:467.5px;top:557px;color:#000">10</b>
<b class="n" style="right:444px;top:557px;color:#000">-38</b>
<b class="n" style="right:407.5px;top:557px;color:#000">199</b>
<b class="n" style="right:387px;top:557px;color:#000">4</b>
<b class="n" style="right:350.5px;top:557px;color:#000">580</b>
<b class="n" style="right:330px;top:557px;color:#000">13</b>
<b class="n" style="right:306.5px;top:557px;color:#000">-66</b>
<b class="n" style="right:265px;top:557px;color:#000">555</b>
<b class="n" style="right:244px;top:557px;color:#000">9</b>
<b class="n" style="right:201px;top:557px;color:#000">536</b>
<b class="n" style="right:180px;top:557px;color:#000">11</b>
<b class="n" style="right:156px;top:557px;color:#000">4</b>
<b class="n" style="right:114px;top:557px;color:#000">519</b>
<b class="n" style="right:92px;top:557px;color:#000">5</b>
<b class="n" style="right:50px;top:557px;color:#000">944</b>
<b class="n" style="right:28px;top:557px;color:#000">9</b>
<b class="n" style="right:5px;top:557px;color:#000">-45</b>
<b class="lb" style="left:1.4px;top:572px;transform:scaleX(1.0)">BIDAIARIEN</b>
<b class="lb" style="left:1.4px;top:584px">SARRERAK</b>
<b class="n" style="right:552px;top:578px;color:#1616d2">9.827</b>
<b class="n" style="right:530px;top:578px;color:#1616d2">100</b>
<b class="n" style="right:489px;top:578px;color:#1616d2">8.535</b>
<b class="n" style="right:467.5px;top:578px;color:#1616d2">100</b>
<b class="n" style="right:444px;top:578px;color:#1616d2">15</b>
<b class="n" style="right:407.5px;top:578px;color:#1616d2">1.976</b>
<b class="n" style="right:387px;top:578px;color:#1616d2">100</b>
<b class="n" style="right:350.5px;top:578px;color:#1616d2">1.904</b>
<b class="n" style="right:330px;top:578px;color:#1616d2">100</b>
<b class="n" style="right:306.5px;top:578px;color:#1616d2">4</b>
<b class="n" style="right:265px;top:578px;color:#1616d2">2.675</b>
<b class="n" style="right:244px;top:578px;color:#1616d2">100</b>
<b class="n" style="right:201px;top:578px;color:#1616d2">2.217</b>
<b class="n" style="right:180px;top:578px;color:#1616d2">100</b>
<b class="n" style="right:156px;top:578px;color:#1616d2">21</b>
<b class="n" style="right:114px;top:578px;color:#1616d2">5.176</b>
<b class="n" style="right:92px;top:578px;color:#1616d2">100</b>
<b class="n" style="right:50px;top:578px;color:#1616d2">4.414</b>
<b class="n" style="right:28px;top:578px;color:#1616d2">100</b>
<b class="n" style="right:5px;top:578px;color:#1616d2">17</b>
<b class="sb" style="left:9.8px;top:598px">Estatukoak</b>
<b class="n" style="right:552px;top:598px;color:#000">9.430</b>
<b class="n" style="right:530px;top:598px;color:#000">96</b>
<b class="n" style="right:489px;top:598px;color:#000">8.015</b>
<b class="n" style="right:467.5px;top:598px;color:#000">94</b>
<b class="n" style="right:444px;top:598px;color:#000">18</b>
<b class="n" style="right:407.5px;top:598px;color:#000">1.905</b>
<b class="n" style="right:387px;top:598px;color:#000">96</b>
<b class="n" style="right:350.5px;top:598px;color:#000">1.802</b>
<b class="n" style="right:330px;top:598px;color:#000">95</b>
<b class="n" style="right:306.5px;top:598px;color:#000">6</b>
<b class="n" style="right:265px;top:598px;color:#000">2.525</b>
<b class="n" style="right:244px;top:598px;color:#000">94</b>
<b class="n" style="right:201px;top:598px;color:#000">2.047</b>
<b class="n" style="right:180px;top:598px;color:#000">92</b>
<b class="n" style="right:156px;top:598px;color:#000">23</b>
<b class="n" style="right:114px;top:598px;color:#000">5.000</b>
<b class="n" style="right:92px;top:598px;color:#000">97</b>
<b class="n" style="right:50px;top:598px;color:#000">4.166</b>
<b class="n" style="right:28px;top:598px;color:#000">94</b>
<b class="n" style="right:5px;top:598px;color:#000">20</b>
<b class="sb" style="left:9.8px;top:613px">Atzerrikoak</b>
<b class="n" style="right:552px;top:613.5px;color:#000">397</b>
<b class="n" style="right:530px;top:613.5px;color:#000">4</b>
<b class="n" style="right:489px;top:613.5px;color:#000">520</b>
<b class="n" style="right:467.5px;top:613.5px;color:#000">6</b>
<b class="n" style="right:444px;top:613.5px;color:#000">-24</b>
<b class="n" style="right:407.5px;top:613.5px;color:#000">71</b>
<b class="n" style="right:387px;top:613.5px;color:#000">4</b>
<b class="n" style="right:350.5px;top:613.5px;color:#000">102</b>
<b class="n" style="right:330px;top:613.5px;color:#000">5</b>
<b class="n" style="right:306.5px;top:613.5px;color:#000">-30</b>
<b class="n" style="right:265px;top:613.5px;color:#000">150</b>
<b class="n" style="right:244px;top:613.5px;color:#000">6</b>
<b class="n" style="right:201px;top:613.5px;color:#000">170</b>
<b class="n" style="right:180px;top:613.5px;color:#000">8</b>
<b class="n" style="right:156px;top:613.5px;color:#000">-12</b>
<b class="n" style="right:114px;top:613.5px;color:#000">176</b>
<b class="n" style="right:92px;top:613.5px;color:#000">3</b>
<b class="n" style="right:50px;top:613.5px;color:#000">248</b>
<b class="n" style="right:28px;top:613.5px;color:#000">6</b>
<b class="n" style="right:5px;top:613.5px;color:#000">-29</b>
<b class="lb" style="left:1.4px;top:635px">BATEZ BESTEKO</b>
<b class="lb" style="left:1.4px;top:646px;transform:scaleX(0.967)">EGONALDIA</b>
<b class="n" style="right:552px;top:640px;color:#1616d2">2,21</b>
<b class="n" style="right:489px;top:640px;color:#1616d2">2,41</b>
<b class="n" style="right:444px;top:640px;color:#1616d2">-8</b>
<b class="n" style="right:407.5px;top:640px;color:#1616d2">2,37</b>
<b class="n" style="right:350.5px;top:640px;color:#1616d2">2,40</b>
<b class="n" style="right:306.5px;top:640px;color:#1616d2">-1</b>
<b class="n" style="right:265px;top:640px;color:#1616d2">2,19</b>
<b class="n" style="right:201px;top:640px;color:#1616d2">2,30</b>
<b class="n" style="right:156px;top:640px;color:#1616d2">-5</b>
<b class="n" style="right:114px;top:640px;color:#1616d2">2,16</b>
<b class="n" style="right:50px;top:640px;color:#1616d2">2,48</b>
<b class="n" style="right:5px;top:640px;color:#1616d2">-13</b>
<b class="lb" style="left:1.4px;top:666px">BETETZE-MAILA</b>
<b class="lb" style="left:1.4px;top:678px">PLAZAKA</b>
<b class="n" style="right:552px;top:671.5px;color:#1616d2">18,35</b>
<b class="n" style="right:489px;top:671.5px;color:#1616d2">18,32</b>
<b class="n" style="right:444px;top:671.5px;color:#1616d2">0</b>
<b class="n" style="right:407.5px;top:671.5px;color:#1616d2">19,54</b>
<b class="n" style="right:350.5px;top:671.5px;color:#1616d2">20,55</b>
<b class="n" style="right:306.5px;top:671.5px;color:#1616d2">-5</b>
<b class="n" style="right:265px;top:671.5px;color:#1616d2">15,20</b>
<b class="n" style="right:201px;top:671.5px;color:#1616d2">13,47</b>
<b class="n" style="right:156px;top:671.5px;color:#1616d2">13</b>
<b class="n" style="right:114px;top:671.5px;color:#1616d2">20,01</b>
<b class="n" style="right:50px;top:671.5px;color:#1616d2">20,88</b>
<b class="n" style="right:5px;top:671.5px;color:#1616d2">-4</b>
<b class="lb" style="left:1.4px;top:691px">BETETZE-MAILA</b>
<b class="lb" style="left:1.4px;top:703px;transform:scaleX(0.963)">GELAKA</b>
<b class="n" style="right:552px;top:697px;color:#1616d2">20,09</b>
<b class="n" style="right:489px;top:697px;color:#1616d2">21,42</b>
<b class="n" style="right:444px;top:697px;color:#1616d2">-6</b>
<b class="n" style="right:407.5px;top:697px;color:#1616d2">22,05</b>
<b class="n" style="right:350.5px;top:697px;color:#1616d2">23,70</b>
<b class="n" style="right:306.5px;top:697px;color:#1616d2">-7</b>
<b class="n" style="right:265px;top:697px;color:#1616d2">16,51</b>
<b class="n" style="right:201px;top:697px;color:#1616d2">16,27</b>
<b class="n" style="right:156px;top:697px;color:#1616d2">1</b>
<b class="n" style="right:114px;top:697px;color:#1616d2">21,79</b>
<b class="n" style="right:50px;top:697px;color:#1616d2">24,29</b>
<b class="n" style="right:5px;top:697px;color:#1616d2">-10</b>
</body></html>
